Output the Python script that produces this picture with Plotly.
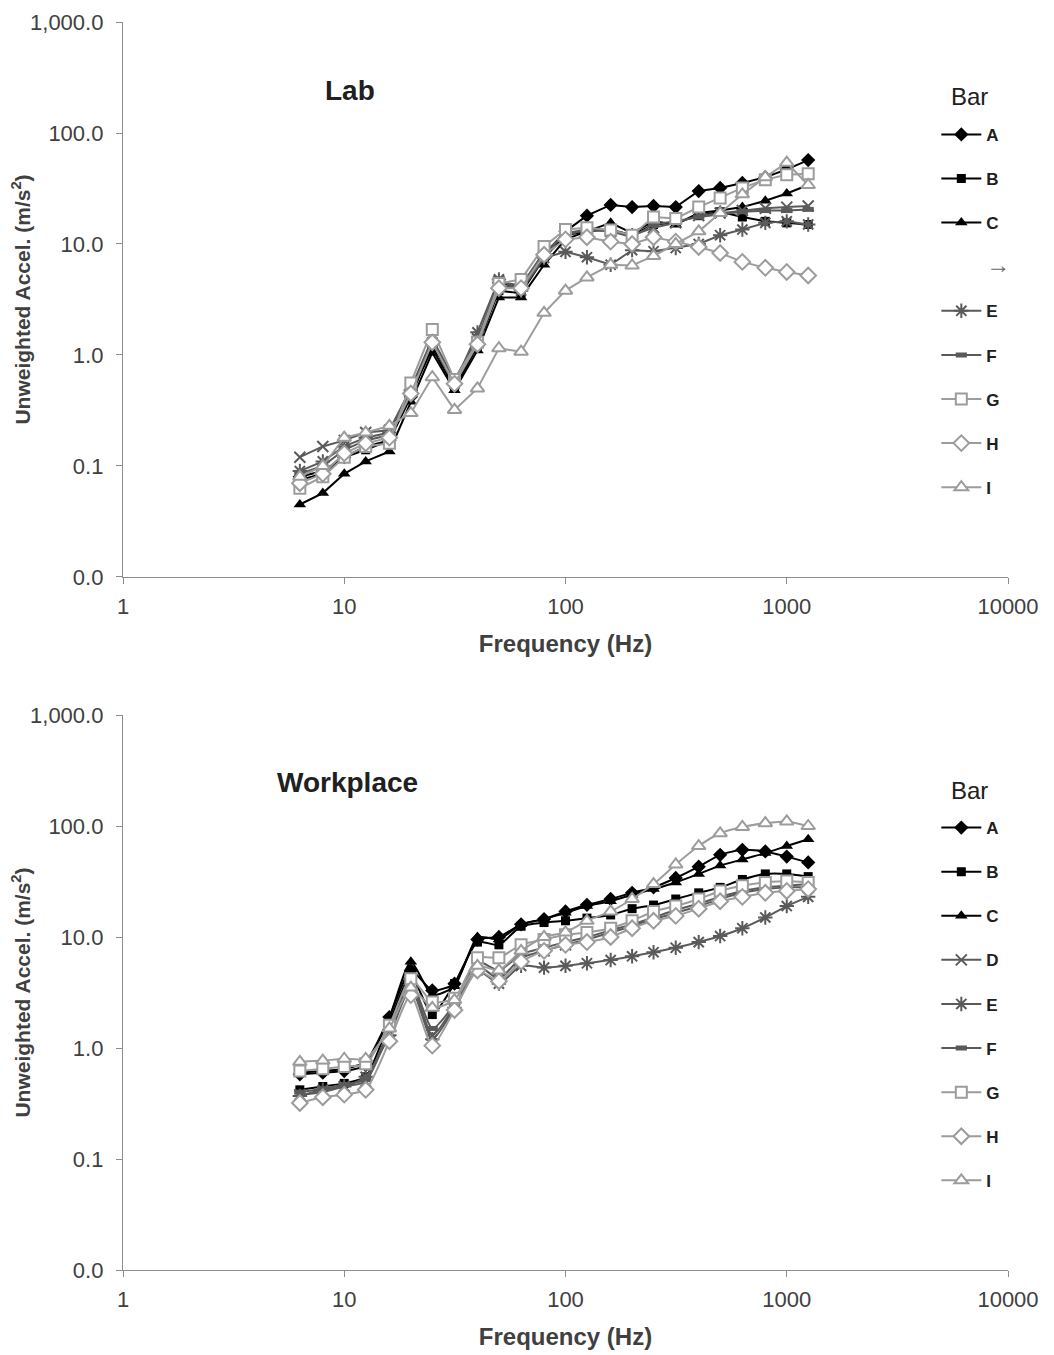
import plotly.graph_objects as go
from plotly.subplots import make_subplots

freq = [6.3, 8, 10, 12.5, 16, 20, 25, 31.5, 40, 50, 63, 80, 100, 125, 160, 200,
        250, 315, 400, 500, 630, 800, 1000, 1250]
bars = ["A", "B", "C", "D", "E", "F", "G", "H", "I"]

lab_A = [0.08, 0.09, 0.12, 0.15, 0.17, 0.42, 1.25, 0.55, 1.25, 4.5, 4.0, 8.0, 13, 18, 22.5, 21.5, 22, 21.5, 30, 32, 35.5, 40, 47, 57]
lab_B = [0.075, 0.085, 0.12, 0.14, 0.17, 0.45, 1.15, 0.5, 1.2, 3.8, 3.6, 7.5, 12, 13, 13.5, 12, 15, 15.5, 18, 19.5, 17.5, 16, 15.5, 15]
lab_C = [0.045, 0.057, 0.085, 0.11, 0.135, 0.38, 1.05, 0.48, 1.1, 3.3, 3.3, 6.5, 11, 13, 15.5, 12.5, 16, 15, 19, 20, 21.5, 24.5, 28.5, 34]
lab_D = [0.12, 0.15, 0.17, 0.2, 0.21, 0.5, 1.4, 0.6, 1.4, 4.6, 4.2, 8.5, 12, 13.5, 13, 12, 14, 15.5, 18, 19, 20, 21, 21.5, 22]
lab_E = [0.09, 0.11, 0.15, 0.18, 0.2, 0.48, 1.3, 0.55, 1.6, 4.8, 3.8, 7.5, 8.5, 7.6, 6.5, 8.8, 8.6, 9.2, 10, 12, 13.5, 15.5, 16, 15]
lab_F = [0.085, 0.1, 0.14, 0.17, 0.19, 0.47, 1.35, 0.58, 1.35, 4.2, 4.0, 8.2, 12.5, 13.5, 13, 11.5, 15, 16, 17.5, 18.5, 19.5, 20, 20, 20.5]
lab_G = [0.063, 0.08, 0.12, 0.15, 0.16, 0.56, 1.7, 0.6, 1.3, 4.4, 4.8, 9.5, 13.5, 14, 13.4, 12, 17.5, 17, 21.5, 26, 32, 38, 42, 43]
lab_H = [0.07, 0.085, 0.13, 0.16, 0.18, 0.45, 1.3, 0.55, 1.25, 4.0, 4.0, 8.0, 11, 11.5, 10.5, 10, 11.5, 10.5, 9.4, 8.3, 6.9, 6.1, 5.6, 5.2]
lab_I = [0.08, 0.1, 0.18, 0.2, 0.23, 0.3, 0.63, 0.32, 0.5, 1.15, 1.07, 2.4, 3.8, 5.0, 6.5, 6.4, 7.8, 10, 13, 19, 28, 40, 54, 34]

wp_A = [0.58, 0.6, 0.62, 0.7, 1.9, 5.0, 3.3, 3.8, 9.5, 10, 13, 14.5, 17, 19.5, 22, 25, 28, 34, 43, 55, 61, 59, 53, 47]
wp_B = [0.42, 0.45, 0.48, 0.55, 1.7, 4.5, 2.0, 3.8, 9.0, 8.5, 12.5, 13.5, 14, 14.8, 15.8, 18, 19.4, 22, 25, 28, 33, 37, 37, 35]
wp_C = [0.6, 0.62, 0.65, 0.75, 1.9, 6.0, 3.0, 3.6, 10, 9.5, 13, 14.5, 16.5, 19, 21, 24, 27, 31, 37, 44, 50, 57, 66, 76]
wp_D = [0.38, 0.4, 0.45, 0.5, 1.4, 3.8, 1.3, 2.4, 5.5, 4.2, 6.5, 7.5, 8.5, 9.5, 11, 12.5, 14.5, 16.5, 19, 22, 25, 27, 28, 28]
wp_E = [0.37, 0.42, 0.45, 0.55, 1.3, 3.5, 1.2, 2.3, 5.0, 3.8, 5.5, 5.3, 5.5, 5.8, 6.2, 6.7, 7.3, 8.0, 9.0, 10.2, 12, 15, 19, 23]
wp_F = [0.4, 0.43, 0.47, 0.52, 1.5, 4.0, 1.5, 2.5, 6.0, 5.0, 7.0, 8.0, 9.0, 10, 11.5, 13, 15, 17.5, 20, 23, 26, 28, 29, 30]
wp_G = [0.62, 0.65, 0.68, 0.72, 1.6, 4.2, 2.6, 2.8, 6.5, 6.5, 8.5, 9.5, 10.5, 11, 12, 14, 17, 19, 22, 26, 29, 31, 32, 31]
wp_H = [0.32, 0.36, 0.38, 0.42, 1.15, 3.0, 1.05, 2.2, 5.0, 4.0, 6.0, 7.5, 8.5, 9, 10, 12, 14, 15.5, 18, 21, 23, 25, 26, 27]
wp_I = [0.75, 0.77, 0.8, 0.8, 1.5, 3.5, 2.3, 2.7, 5.5, 5.0, 7.5, 10, 11, 14, 17, 22, 30, 45, 66, 86, 98, 106, 110, 100]

lab = [lab_A, lab_B, lab_C, lab_D, lab_E, lab_F, lab_G, lab_H, lab_I]
wp = [wp_A, wp_B, wp_C, wp_D, wp_E, wp_F, wp_G, wp_H, wp_I]

y_tickvals = [0.01, 0.1, 1, 10, 100, 1000]
y_ticktext = ["0.0", "0.1", "1.0", "10.0", "100.0", "1,000.0"]
x_tickvals = [1, 10, 100, 1000, 10000]
x_ticktext = ["1", "10", "100", "1000", "10000"]

BLACK = "#000000"
DARK = "#5a5a5a"
LIGHT = "#9c9c9c"
styles = [
    dict(color=BLACK, symbol="diamond", fill=BLACK, size=11, lw=0),
    dict(color=BLACK, symbol="square", fill=BLACK, size=9, lw=0),
    dict(color=BLACK, symbol="triangle-up", fill=BLACK, size=11, lw=0),
    dict(color=DARK, symbol="x-thin-open", fill=DARK, size=11, lw=2),
    dict(color=DARK, symbol="asterisk-open", fill=DARK, size=12, lw=2),
    dict(color=DARK, symbol="line-ew-open", fill=DARK, size=8, lw=5),
    dict(color=LIGHT, symbol="square", fill="white", size=11, lw=2),
    dict(color=LIGHT, symbol="diamond", fill="white", size=12, lw=2),
    dict(color=LIGHT, symbol="triangle-up", fill="white", size=12, lw=2),
]

fig = make_subplots(rows=2, cols=1, vertical_spacing=0.1106)

for row, data, lg, shape in [(1, lab, "legend", "linear"), (2, wp, "legend2", "spline")]:
    for name, vals, st in zip(bars, data, styles):
        is_dummy_D = (row == 1 and name == "D")
        fig.add_trace(go.Scatter(
            x=freq, y=vals, mode="lines+markers",
            name="<b>%s</b>" % name,
            line=dict(color=st["color"], width=2, shape=shape, smoothing=0.6),
            marker=dict(symbol=st["symbol"], size=st["size"], color=st["fill"],
                        line=dict(color=st["color"], width=st["lw"])),
            legend=lg, legendgroup="%s%d" % (name, row),
            showlegend=not is_dummy_D,
        ), row=row, col=1)
        if is_dummy_D:
            fig.add_trace(go.Scatter(
                x=[None], y=[None], mode="lines",
                name="<span style='color:#6a6a6a;font-size:24px'>→</span>",
                line=dict(color="rgba(0,0,0,0)", width=0),
                legend=lg, legendgroup="%s%d" % (name, row),
            ), row=row, col=1)

FAM = "Liberation Sans, Arial"
axis_font = dict(family=FAM, size=22, color="#404040")
xtitle_font = dict(family=FAM, size=24, color="#404040")
ytitle_font = dict(family=FAM, size=21, color="#404040")
for r in (1, 2):
    fig.update_xaxes(type="log", range=[0, 4], tickvals=x_tickvals, ticktext=x_ticktext,
                     showgrid=False, showline=True, linecolor="#8c8c8c", linewidth=1.3,
                     ticks="outside", ticklen=6, tickcolor="#8c8c8c", tickfont=axis_font,
                     ticklabelstandoff=3,
                     title=dict(text="<b>Frequency (Hz)</b>", font=xtitle_font, standoff=17),
                     zeroline=False, automargin=False, row=r, col=1)
    fig.update_yaxes(type="log", range=[-2, 3], tickvals=y_tickvals, ticktext=y_ticktext,
                     showgrid=False, showline=True, linecolor="#8c8c8c", linewidth=1.3,
                     ticks="outside", ticklen=6, tickcolor="#8c8c8c", tickfont=axis_font,
                     ticklabelstandoff=8,
                     title=dict(text="<b>Unweighted Accel. (m/s<sup>2</sup>)</b>", font=ytitle_font, standoff=1),
                     zeroline=False, automargin=False, row=r, col=1)

legend_common = dict(
    x=0.919, xanchor="left", yanchor="top",
    font=dict(family=FAM, size=17, color="#202020"),
    bgcolor="rgba(0,0,0,0)", tracegroupgap=19, itemwidth=40, traceorder="grouped",
)
fig.update_layout(
    legend=dict(**legend_common, y=0.924),
    legend2=dict(**legend_common, y=0.3686),
)

bar_font = dict(family=FAM, size=24, color="#202020")
fig.add_annotation(text="Bar", x=0.957, y=0.94, xref="paper", yref="paper",
                   xanchor="center", yanchor="middle", showarrow=False, font=bar_font)
fig.add_annotation(text="Bar", x=0.957, y=0.3846, xref="paper", yref="paper",
                   xanchor="center", yanchor="middle", showarrow=False, font=bar_font)

head_font = dict(family=FAM, size=28, color="#202020")
fig.add_annotation(text="<b>Lab</b>", x=0.256, y=0.9455, xref="paper", yref="paper",
                   xanchor="center", yanchor="middle", showarrow=False, font=head_font)
fig.add_annotation(text="<b>Workplace</b>", x=0.254, y=0.391, xref="paper", yref="paper",
                   xanchor="center", yanchor="middle", showarrow=False, font=head_font)

fig.update_layout(
    width=1046, height=1347,
    margin=dict(l=115, r=46, t=14, b=85),
    paper_bgcolor="white", plot_bgcolor="white",
    showlegend=True,
)

fig.write_html("out.html")
